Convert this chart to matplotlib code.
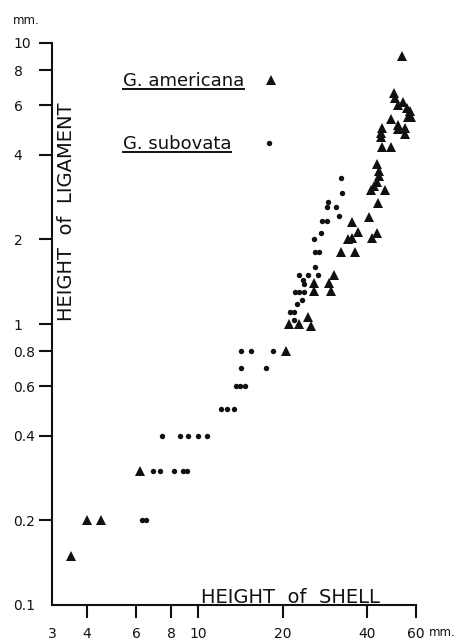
import matplotlib
matplotlib.use("Agg")
import matplotlib.pyplot as plt
from matplotlib.lines import Line2D

plt.rcParams['font.family'] = ['DejaVu Sans']

# ---- data ----
americana_x = [3.5, 4.0, 4.5, 6.2, 20.5, 21.1, 23.0, 25.2, 24.7, 26.0, 29.8, 26.0, 29.3,
               30.5, 32.3, 36.4, 34.4, 35.4, 37.2, 35.4, 40.6, 41.7, 43.5, 43.8, 41.5,
               46.5, 42.3, 43.5, 44.1, 44.3, 43.5, 45.3, 49.0, 45.0, 45.0, 45.3, 49.0,
               51.6, 51.9, 54.9, 54.9, 56.4, 57.5, 55.5, 57.2, 54.0, 51.9, 50.3, 49.9, 53.3]
americana_y = [0.15, 0.2, 0.2, 0.3, 0.8, 1.0, 1.0, 0.98, 1.06, 1.31, 1.31, 1.4, 1.4,
               1.5, 1.8, 1.8, 2.0, 2.02, 2.12, 2.3, 2.4, 2.02, 2.1, 2.7, 3.0,
               3.0, 3.1, 3.2, 3.35, 3.5, 3.7, 4.28, 4.28, 4.62, 4.78, 4.97, 5.37,
               5.1, 4.94, 4.97, 4.73, 5.47, 5.47, 5.86, 5.75, 6.18, 6.02, 6.36, 6.62, 9.0]

subovata_x = [6.3, 6.5, 6.9, 7.3, 8.2, 8.8, 9.1, 7.4, 8.6, 9.2, 10.0, 10.7, 12.1, 12.7,
              13.4, 13.6, 14.1, 14.7, 14.2, 17.4, 14.2, 15.4, 18.5, 22.0, 21.2, 22.0,
              22.6, 23.4, 22.1, 23.0, 23.8, 23.7, 23.9, 22.9, 24.6, 26.7, 26.2, 26.1,
              27.1, 25.9, 27.4, 27.6, 28.9, 31.9, 28.9, 31.0, 29.1, 32.6, 32.4]
subovata_y = [0.2, 0.2, 0.3, 0.3, 0.3, 0.3, 0.3, 0.4, 0.4, 0.4, 0.4, 0.4, 0.5, 0.5,
              0.5, 0.6, 0.6, 0.6, 0.7, 0.7, 0.8, 0.8, 0.8, 1.03, 1.1, 1.1,
              1.18, 1.22, 1.3, 1.3, 1.3, 1.43, 1.39, 1.5, 1.5, 1.5, 1.6, 1.8,
              1.8, 2.0, 2.1, 2.33, 2.33, 2.42, 2.6, 2.6, 2.72, 2.92, 3.3]

x_ticks = [3, 4, 6, 8, 10, 20, 40, 60]
x_ticklabels = ['3', '4', '6', '8', '10', '20', '40', '60']
y_ticks = [0.1, 0.2, 0.4, 0.6, 0.8, 1, 2, 4, 6, 8, 10]
y_ticklabels = ['0.1', '0.2', '0.4', '0.6', '0.8', '1', '2', '4', '6', '8', '10']

species = ['G. americana', 'G. subovata']

W, H = 459, 644
fig = plt.figure(figsize=(W / 100, H / 100), dpi=100)
ax = fig.add_axes([52 / W, 39 / H, 364 / W, 562 / H])

ink = '#111111'
ax.plot(americana_x, americana_y, linestyle='none', marker='^', ms=7.3, color=ink,
        markeredgewidth=0, clip_on=False)
ax.plot(subovata_x, subovata_y, linestyle='none', marker='o', ms=3.9, color=ink,
        markeredgewidth=0, clip_on=False)

ax.set_xscale('log')
ax.set_yscale('log')
ax.set_xlim(3, 60)
ax.set_ylim(0.1, 10)
ax.minorticks_off()
ax.set_xticks(x_ticks)
ax.set_xticklabels(x_ticklabels)
ax.set_yticks(y_ticks)
ax.set_yticklabels(y_ticklabels)

for s in ['top', 'right']:
    ax.spines[s].set_visible(False)
for s in ['left', 'bottom']:
    ax.spines[s].set_linewidth(1.5)
    ax.spines[s].set_color(ink)

ax.tick_params(axis='both', which='major', direction='out', length=9.2, width=1.5,
               color=ink, labelsize=10, labelcolor=ink)
ax.tick_params(axis='x', pad=6.5)
ax.tick_params(axis='y', pad=18.5)
for lbl in ax.get_yticklabels():
    lbl.set_horizontalalignment('left')
for t in ax.xaxis.get_major_ticks():
    if t.get_loc() == 3:
        t.tick1line.set_visible(False)
for t in ax.yaxis.get_major_ticks():
    if t.get_loc() == 0.1:
        t.tick1line.set_visible(False)

# axis titles
fig.text(201 / W, (644 - 603) / H, 'HEIGHT  of  SHELL',
         fontsize=14, ha='left', va='baseline', color=ink)
fig.text(72 / W, (644 - 321) / H, 'HEIGHT  of  LIGAMENT',
         fontsize=14, ha='left', va='baseline', rotation=90, rotation_mode='anchor',
         color=ink)

# units
fig.text(13 / W, 1 - 20 / H, 'mm.', fontsize=8.5, ha='left', va='center', color=ink)
fig.text(456 / W, 1 - 633 / H, 'mm.', fontsize=8.5, ha='right', va='center', color=ink)

# legend
leg_base = [86, 149]
leg_mark_y = [80, 143]
leg_marker = [('^', 7.3, 271), ('o', 3.9, 269)]
texts = []
for name, yb, ym, (mk, ms, mx) in zip(species, leg_base, leg_mark_y, leg_marker):
    t = fig.text(123 / W, 1 - yb / H, name, fontsize=13, ha='left', va='baseline',
                 color=ink)
    texts.append((t, yb))
    fig.add_artist(Line2D([mx / W], [1 - ym / H], marker=mk, ms=ms, color=ink,
                          markeredgewidth=0, linestyle='none',
                          transform=fig.transFigure))

fig.canvas.draw()
r = fig.canvas.get_renderer()
for t, yb in texts:
    bb = t.get_window_extent(r)
    y0 = 1 - (yb + 2.5) / H
    fig.add_artist(Line2D([bb.x0 / W, bb.x1 / W], [y0, y0], color=ink, lw=1.4,
                          transform=fig.transFigure))

fig.savefig('out.png', dpi=100, facecolor='white')
